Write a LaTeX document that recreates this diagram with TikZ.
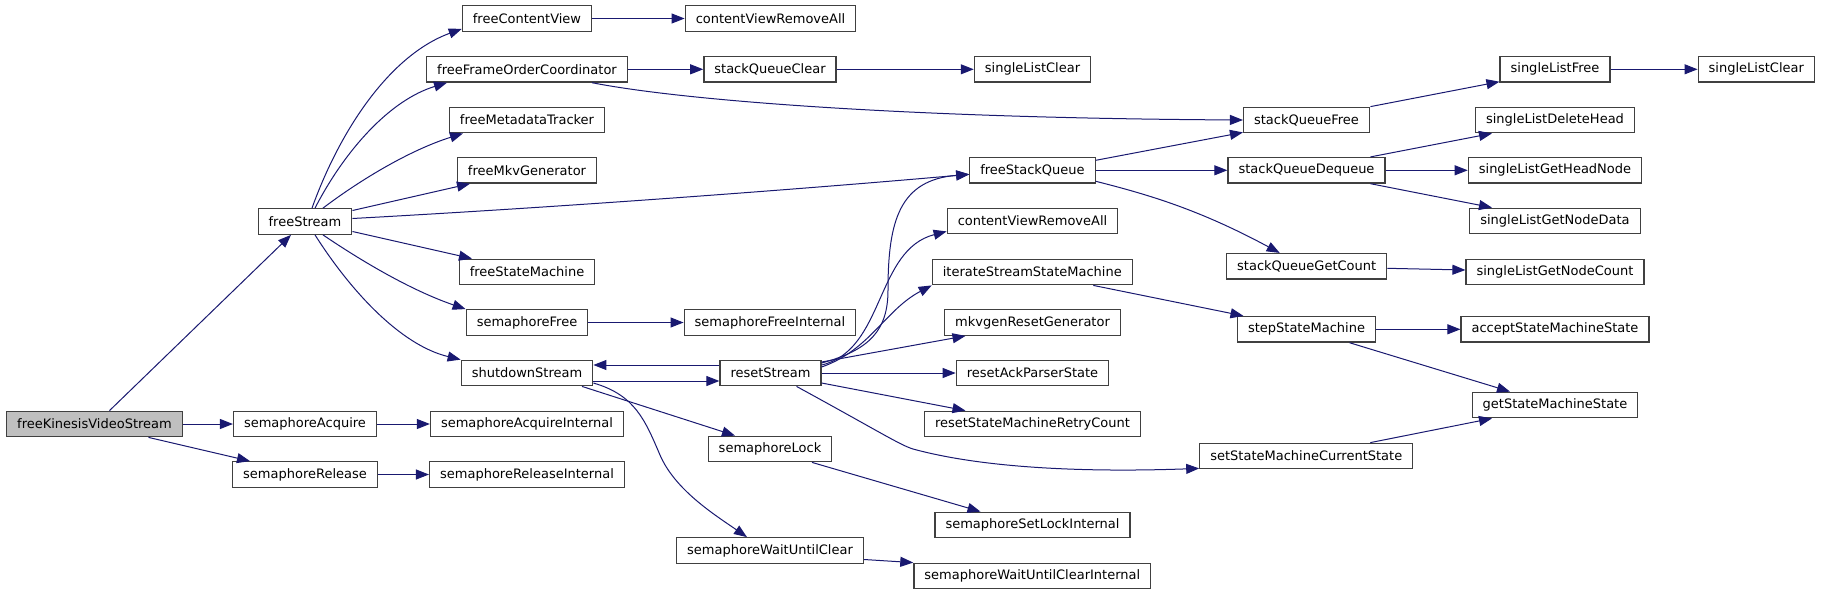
\documentclass[tikz,border=0pt]{standalone}
\usepackage{fontspec}
\setmainfont{DejaVu Sans}
\usetikzlibrary{arrows.meta}
\definecolor{midblue}{HTML}{191970}
\definecolor{boxline}{HTML}{404040}

\begin{document}
\begin{tikzpicture}[x=1pt, y=-1pt,
    fn/.style={draw=boxline, line width=1.3pt, fill=white, inner xsep=10.5pt, inner ysep=0pt, minimum height=25.5pt, font=\fontsize{13}{15}\selectfont},
    root/.style={fn, fill=black!25},
    call/.style={draw=midblue, line width=1pt, -{Triangle[length=13pt, width=10pt]}}]
    \useasboundingbox (0,0) rectangle (1821,595);
    \node[root] (fkvs) at (94.5,424) {freeKinesisVideoStream};
    \node[fn] (fs) at (305,221.5) {freeStream};
    \node[fn] (sa) at (305,424) {semaphoreAcquire};
    \node[fn] (sr) at (305,474.5) {semaphoreRelease};
    \node[fn] (fcv) at (527,18.5) {freeContentView};
    \node[fn] (ffoc) at (527,69.3) {freeFrameOrderCoordinator};
    \node[fn] (fmt) at (527,120) {freeMetadataTracker};
    \node[fn] (fmg) at (527,170.3) {freeMkvGenerator};
    \node[fn] (fsm) at (527,272) {freeStateMachine};
    \node[fn] (sfr) at (527,322.5) {semaphoreFree};
    \node[fn] (ss) at (527,373) {shutdownStream};
    \node[fn] (sai) at (527,424) {semaphoreAcquireInternal};
    \node[fn] (sri) at (527,474.5) {semaphoreReleaseInternal};
    \node[fn] (cvra) at (770.5,18.5) {contentViewRemoveAll};
    \node[fn] (sqc) at (770,69.3) {stackQueueClear};
    \node[fn] (sfi) at (770,322.5) {semaphoreFreeInternal};
    \node[fn] (rs) at (770.5,373) {resetStream};
    \node[fn] (sl) at (770,449) {semaphoreLock};
    \node[fn] (swuc) at (770,550.5) {semaphoreWaitUntilClear};
    \node[fn] (slc) at (1032.5,69.3) {singleListClear};
    \node[fn] (fsq) at (1032.5,170.3) {freeStackQueue};
    \node[fn] (cvrb) at (1032.5,221) {contentViewRemoveAll};
    \node[fn] (issm) at (1032.3,272) {iterateStreamStateMachine};
    \node[fn] (mrg) at (1032.5,322.5) {mkvgenResetGenerator};
    \node[fn] (raps) at (1032.5,373) {resetAckParserState};
    \node[fn] (rsmrc) at (1032.5,424) {resetStateMachineRetryCount};
    \node[fn] (ssli) at (1032.5,525) {semaphoreSetLockInternal};
    \node[fn] (swuci) at (1032.3,576) {semaphoreWaitUntilClearInternal};
    \node[fn] (sqf) at (1306.5,120) {stackQueueFree};
    \node[fn] (sqd) at (1306.5,170.3) {stackQueueDequeue};
    \node[fn] (sqgc) at (1306.7,266.3) {stackQueueGetCount};
    \node[fn] (ssm) at (1306.5,329.3) {stepStateMachine};
    \node[fn] (ssmcs) at (1306.3,456) {setStateMachineCurrentState};
    \node[fn] (slf) at (1555,69.3) {singleListFree};
    \node[fn] (sldh) at (1555,120) {singleListDeleteHead};
    \node[fn] (slghn) at (1555,170.3) {singleListGetHeadNode};
    \node[fn] (slgnd) at (1555,221) {singleListGetNodeData};
    \node[fn] (slgnc) at (1555,272) {singleListGetNodeCount};
    \node[fn] (asms) at (1555,329.3) {acceptStateMachineState};
    \node[fn] (gsms) at (1555,405) {getStateMachineState};
    \node[fn] (slcb) at (1756.3,69.3) {singleListClear};
    \draw[call] ([xshift=15pt]fkvs.north) -- ([xshift=-14pt]fs.south);
    \draw[call] (fkvs.east) -- (sa.west);
    \draw[call] ([xshift=54pt]fkvs.south) -- ([xshift=-55pt]sr.north);
    \draw[call] ([xshift=7pt]fs.north) .. controls (340,130) and (390,55) .. ([yshift=3pt]fcv.south west);
    \draw[call] ([xshift=10pt]fs.north) .. controls (345,150) and (390,100) .. ([xshift=-80pt]ffoc.south);
    \draw[call] ([xshift=18pt]fs.north) .. controls (360,180) and (410,150) .. ([xshift=-64pt]fmt.south);
    \draw[call] ([yshift=11pt]fs.east) -- ([xshift=-57pt]fmg.south);
    \draw[call] ([yshift=3pt]fs.east) .. controls (600,205) and (850,185) .. ([yshift=-4pt]fsq.west);
    \draw[call] ([yshift=-10pt]fs.east) -- ([xshift=-55pt]fsm.north);
    \draw[call] ([xshift=18pt]fs.south) .. controls (360,260) and (410,290) .. (sfr.north west);
    \draw[call] ([xshift=10pt]fs.south) .. controls (350,290) and (400,345) .. (ss.north west);
    \draw[call] (sa.east) -- (sai.west);
    \draw[call] (sr.east) -- (sri.west);
    \draw[call] (fcv.east) -- (cvra.west);
    \draw[call] (ffoc.east) -- (sqc.west);
    \draw[call] ([xshift=65pt]ffoc.south) .. controls (680,100) and (900,118) .. (sqf.west);
    \draw[call] (sqc.east) -- (slc.west);
    \draw[call] (sfr.east) -- (sfi.west);
    \draw[call] ([yshift=-8pt]ss.east) -- ([yshift=-8pt]rs.west);
    \draw[call] ([yshift=8pt]rs.west) -- ([yshift=8pt]ss.east);
    \draw[call] ([xshift=55pt]ss.south) -- ([xshift=-35pt]sl.north);
    \draw[call] ([yshift=-10pt]ss.east) .. controls (635,395) and (645,420) .. (660,455) .. controls (675,490) and (715,515) .. ([xshift=-23pt]swuc.north);
    \draw[call] ([yshift=10pt]rs.east) .. controls (870,350) and (888,330) .. (888,290) .. controls (888,220) and (900,180) .. ([yshift=-4pt]fsq.west);
    \draw[call] ([yshift=8pt]rs.east) .. controls (885,350) and (875,250) .. ([yshift=3pt]cvrb.south west);
    \draw[call] ([yshift=6pt]rs.east) .. controls (870,350) and (885,310) .. (issm.south west);
    \draw[call] ([yshift=11pt]rs.east) -- ([xshift=-67pt]mrg.south);
    \draw[call] (rs.east) -- (raps.west);
    \draw[call] ([yshift=-10pt]rs.east) -- ([xshift=-67pt]rsmrc.north);
    \draw[call] ([xshift=26pt]rs.south) .. controls (880,432) and (900,445) .. (913,449) .. controls (990,470) and (1100,472) .. ([yshift=1pt]ssmcs.south west);
    \draw[call] ([xshift=42pt]sl.south) -- ([xshift=-52pt]ssli.north);
    \draw[call] ([yshift=-9pt]swuc.east) -- (swuci.north west);
    \draw[call] ([yshift=10pt]fsq.east) -- ([yshift=1pt]sqf.south west);
    \draw[call] (fsq.east) -- (sqd.west);
    \draw[call] ([yshift=-11pt]fsq.east) .. controls (1150,195) and (1200,210) .. ([xshift=-27pt]sqgc.north);
    \draw[call] ([xshift=61pt]issm.south) -- ([xshift=-63pt]ssm.north);
    \draw[call] ([xshift=64pt]sqf.north) -- ([yshift=1pt]slf.south west);
    \draw[call] (slf.east) -- (slcb.west);
    \draw[call] ([xshift=64pt]sqd.north) -- ([xshift=-63pt]sldh.south);
    \draw[call] (sqd.east) -- (slghn.west);
    \draw[call] ([xshift=64pt]sqd.south) -- ([xshift=-63pt]slgnd.north);
    \draw[call] ([yshift=-2pt]sqgc.east) -- ([yshift=2pt]slgnc.west);
    \draw[call] (ssm.east) -- (asms.west);
    \draw[call] ([xshift=43pt]ssm.south) -- ([xshift=-45pt]gsms.north);
    \draw[call] ([xshift=64pt]ssmcs.north) -- ([xshift=-63pt]gsms.south);
\end{tikzpicture}
\end{document}
